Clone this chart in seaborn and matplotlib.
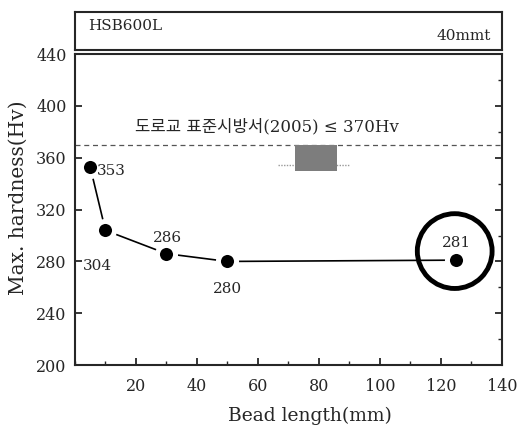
import numpy as np
import pandas as pd
import seaborn as sns
import matplotlib
matplotlib.use("Agg")
import matplotlib.pyplot as plt
from matplotlib.ticker import MultipleLocator, FixedLocator

# --- data ---
bead_length = [5, 10, 30, 50, 125]
max_hardness = [353, 304, 286, 280, 281]
point_labels = ["353", "304", "286", "280", "281"]
label_offsets = [(5, -3), (-6, -26), (1, 11), (0, -20), (0, 12)]  # points

spec_limit = 370
spec_text = "도로교 표준시방서(2005) ≤ 370Hv"
steel_grade = "HSB600L"
thickness = "40mmt"

x_ticks = [20, 40, 60, 80, 100, 120, 140]
y_ticks = [200, 240, 280, 320, 360, 400, 440]

sns.set_style("ticks")
serif = ["DejaVu Serif", "Noto Sans CJK KR"]
plt.rcParams["font.family"] = serif

df = pd.DataFrame({"Bead length": bead_length, "Max. hardness": max_hardness})

fig = plt.figure(figsize=(5.24, 4.30), dpi=100)
ax = fig.add_axes([0.143, 0.151, 0.815, 0.723])
top = fig.add_axes([0.143, 0.884, 0.815, 0.088])

# connecting line, then markers with white halo so the line stops short
sns.lineplot(data=df, x="Bead length", y="Max. hardness", color="black",
             lw=1.2, ax=ax, zorder=2)
sns.scatterplot(data=df, x="Bead length", y="Max. hardness", color="black",
                s=170, edgecolor="white", linewidth=3.6, ax=ax, zorder=3)

for x, y, lab, off in zip(bead_length, max_hardness, point_labels, label_offsets):
    ax.annotate(lab, (x, y), xytext=off, textcoords="offset points",
                fontsize=11, ha="left" if off[0] > 3 else "center", va="center")

# highlight circle on the longest bead
ax.scatter([bead_length[-1] - 0.5], [max_hardness[-1] + 7], s=2900,
           facecolor="none", edgecolor="black", linewidth=3.5, zorder=4)

# spec limit
ax.axhline(spec_limit, color="#555555", lw=0.9, ls=(0, (4, 3)), zorder=1)
ax.text(63, 384, spec_text, ha="center", va="center", fontsize=12,
        family=serif)

# gray downward block arrow
ax.plot([66.5, 90], [354.5, 354.5], color="#999999", lw=1.0, ls=(0, (1, 1)),
        zorder=1)
ax.fill_between([72, 86], 350, spec_limit, color="#7d7d7d", lw=0, zorder=1)

ax.set_xlim(0, 140)
ax.set_ylim(200, 440)
ax.xaxis.set_major_locator(FixedLocator(x_ticks))
ax.xaxis.set_minor_locator(MultipleLocator(10))
ax.yaxis.set_major_locator(FixedLocator(y_ticks))
ax.yaxis.set_minor_locator(MultipleLocator(20))
ax.tick_params(which="both", direction="in", labelsize=11.5, right=True,
               top=False, pad=6)
ax.tick_params(axis="x", which="major", length=5, width=1.3, pad=9)
ax.tick_params(axis="x", which="minor", length=3, width=1.0)
ax.tick_params(axis="y", which="major", length=5, width=1.3)
ax.tick_params(axis="y", which="minor", length=3, width=1.0, left=False)
for s in ax.spines.values():
    s.set_linewidth(1.5)
    s.set_visible(True)
ax.set_xlabel("Bead length(mm)", fontsize=13.5)
ax.set_ylabel("Max. hardness(Hv)", fontsize=14.5)
ax.xaxis.set_label_coords(0.55, -0.135)
ax.yaxis.set_label_coords(-0.11, 0.54)

# header box
top.set_xticks([])
top.set_yticks([])
for s in top.spines.values():
    s.set_linewidth(1.5)
    s.set_visible(True)
top.text(0.03, 0.62, steel_grade, transform=top.transAxes, fontsize=11,
         ha="left", va="center")
top.text(0.975, 0.38, thickness, transform=top.transAxes, fontsize=11,
         ha="right", va="center")

fig.savefig("out.png", dpi=100)
